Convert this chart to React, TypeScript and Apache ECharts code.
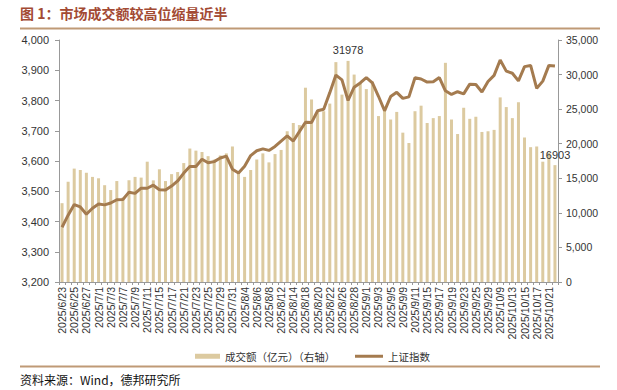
import React, { useEffect, useRef } from "react";
import * as echarts from "echarts";

const dates = [
  "2025/6/23","2025/6/24","2025/6/25","2025/6/26","2025/6/27","2025/6/30",
  "2025/7/1","2025/7/2","2025/7/3","2025/7/4","2025/7/7","2025/7/8","2025/7/9","2025/7/10","2025/7/11","2025/7/14","2025/7/15","2025/7/16","2025/7/17","2025/7/18","2025/7/21","2025/7/22","2025/7/23","2025/7/24","2025/7/25","2025/7/28","2025/7/29","2025/7/30","2025/7/31",
  "2025/8/1","2025/8/4","2025/8/5","2025/8/6","2025/8/7","2025/8/8","2025/8/11","2025/8/12","2025/8/13","2025/8/14","2025/8/15","2025/8/18","2025/8/19","2025/8/20","2025/8/21","2025/8/22","2025/8/25","2025/8/26","2025/8/27","2025/8/28","2025/8/29",
  "2025/9/1","2025/9/2","2025/9/3","2025/9/4","2025/9/5","2025/9/8","2025/9/9","2025/9/10","2025/9/11","2025/9/12","2025/9/15","2025/9/16","2025/9/17","2025/9/18","2025/9/19","2025/9/22","2025/9/23","2025/9/24","2025/9/25","2025/9/26","2025/9/29","2025/9/30",
  "2025/10/9","2025/10/10","2025/10/13","2025/10/14","2025/10/15","2025/10/16","2025/10/17","2025/10/20","2025/10/21","2025/10/22",
];

// 成交额（亿元），右轴
const turnover = [
  11400, 14500, 16400, 16200, 15800, 15200, 15000, 14000, 13300, 14600,
  12200, 14700, 15200, 15100, 17400, 14700, 16300, 14600, 15600, 15900,
  17200, 19300, 19000, 18800, 18200, 17700, 18300, 18600, 19600, 16000,
  15200, 16200, 17700, 18600, 17300, 18500, 19100, 21800, 23000, 22700,
  28100, 26400, 24800, 24700, 25800, 31800, 27100, 31978, 30000, 28800,
  27900, 29000, 24000, 25200, 23500, 24600, 21600, 20100, 24700, 25500,
  23000, 23700, 24000, 31700, 23500, 21400, 25200, 23600, 23900, 21700,
  21800, 22000, 26700, 25300, 23700, 26000, 20900, 19500, 19600, 17400,
  18700, 16903,
];

// 上证指数，左轴
const sseIndex = [
  3381, 3421, 3456, 3448, 3424, 3444, 3458, 3455, 3461, 3472,
  3473, 3497, 3493, 3510, 3510, 3520, 3505, 3504, 3517, 3534,
  3560, 3582, 3582, 3606, 3594, 3598, 3610, 3616, 3573, 3560,
  3583, 3618, 3634, 3640, 3635, 3648, 3666, 3683, 3666, 3697,
  3728, 3727, 3766, 3771, 3826, 3884, 3868, 3800, 3844, 3858,
  3876, 3858, 3814, 3766, 3813, 3827, 3807, 3812, 3875, 3871,
  3861, 3862, 3876, 3832, 3820, 3829, 3822, 3854, 3853, 3828,
  3863, 3883, 3934, 3897, 3890, 3865, 3912, 3916, 3840, 3864,
  3916, 3914,
];

const barName = "成交额（亿元）（右轴）";
const lineName = "上证指数";
const titleText = "图 1：市场成交额较高位缩量近半";
const sourceText = "资料来源：Wind，德邦研究所";

const CJK = "'Noto Sans CJK SC', sans-serif";
const LATIN = "'Liberation Sans', Arial, sans-serif";

export default function App() {
  const ref = useRef<HTMLDivElement>(null);

  useEffect(() => {
    if (!ref.current) return;
    const chart = echarts.init(ref.current, null, { renderer: "svg" });

    const maxVal = Math.max(...turnover);
    const maxIdx = turnover.indexOf(maxVal);
    const lastIdx = turnover.length - 1;

    const barData = turnover.map((v, i) =>
      i === maxIdx || i === lastIdx
        ? {
            value: v,
            label: {
              show: true,
              position: "top",
              distance: 5,
              fontSize: 11,
              color: "#333",
              fontFamily: LATIN,
            },
          }
        : v
    );

    const ruleColor = "#bf9a76";

    chart.setOption({
      animation: false,
      backgroundColor: "#fff",
      textStyle: { fontFamily: LATIN },
      title: {
        text: titleText,
        left: 20,
        top: 6,
        padding: 0,
        textStyle: {
          fontSize: 14,
          fontWeight: "bold",
          color: "#a34a33",
          fontFamily: CJK,
        },
      },
      graphic: [
        {
          type: "line",
          shape: { x1: 20, y1: 28.5, x2: 600, y2: 28.5 },
          style: { stroke: ruleColor, lineWidth: 2 },
        },
        {
          type: "line",
          shape: { x1: 20, y1: 366.5, x2: 600, y2: 366.5 },
          style: { stroke: ruleColor, lineWidth: 2 },
        },
        {
          type: "text",
          x: 20,
          y: 379,
          style: {
            text: sourceText,
            fontSize: 12,
            fontFamily: CJK,
            fill: "#111",
            verticalAlign: "middle",
          },
        },
      ],
      legend: [
        {
          data: [{ name: barName, icon: "rect" }],
          left: 195,
          top: 351,
          padding: 0,
          itemWidth: 25,
          itemHeight: 5,
          textStyle: { fontSize: 10.5, color: "#333", fontFamily: CJK },
        },
        {
          data: [{ name: lineName, icon: "rect" }],
          left: 355,
          top: 351,
          padding: 0,
          itemWidth: 28,
          itemHeight: 3,
          textStyle: { fontSize: 10.5, color: "#333", fontFamily: CJK },
        },
      ],
      grid: { left: 59, right: 59, top: 40, bottom: 108, containLabel: false },
      xAxis: {
        type: "category",
        data: dates,
        boundaryGap: true,
        axisLine: { show: true, lineStyle: { color: "#999" } },
        axisTick: { show: true, interval: 0, length: 3, lineStyle: { color: "#999" } },
        axisLabel: {
          rotate: 90,
          interval: 1,
          fontSize: 10.5,
          color: "#333",
          margin: 5,
          fontFamily: LATIN,
        },
      },
      yAxis: [
        {
          type: "value",
          position: "left",
          min: 3200,
          max: 4000,
          interval: 100,
          splitLine: { show: false },
          axisLine: { show: true, lineStyle: { color: "#999" } },
          axisTick: { show: true, length: 4, lineStyle: { color: "#999" } },
          axisLabel: {
            fontSize: 11,
            color: "#333",
            margin: 10,
            fontFamily: LATIN,
            formatter: (v: number) => v.toLocaleString("en-US"),
          },
        },
        {
          type: "value",
          position: "right",
          min: 0,
          max: 35000,
          interval: 5000,
          splitLine: { show: false },
          axisLine: { show: true, lineStyle: { color: "#999" } },
          axisTick: { show: true, length: 4, lineStyle: { color: "#999" } },
          axisLabel: {
            fontSize: 10.5,
            color: "#333",
            margin: 8,
            fontFamily: LATIN,
          },
        },
      ],
      series: [
        {
          name: barName,
          type: "bar",
          yAxisIndex: 1,
          barWidth: 3,
          itemStyle: { color: "#dccaa0" },
          data: barData,
        },
        {
          name: lineName,
          type: "line",
          yAxisIndex: 0,
          symbol: "none",
          lineStyle: { width: 3, color: "#a47b4f" },
          itemStyle: { color: "#a47b4f" },
          data: sseIndex,
        },
      ],
    });

    return () => chart.dispose();
  }, []);

  return (
    <div
      ref={ref}
      style={{
        position: "fixed",
        left: 0,
        top: 0,
        width: 617,
        height: 390,
        background: "#fff",
      }}
    />
  );
}
